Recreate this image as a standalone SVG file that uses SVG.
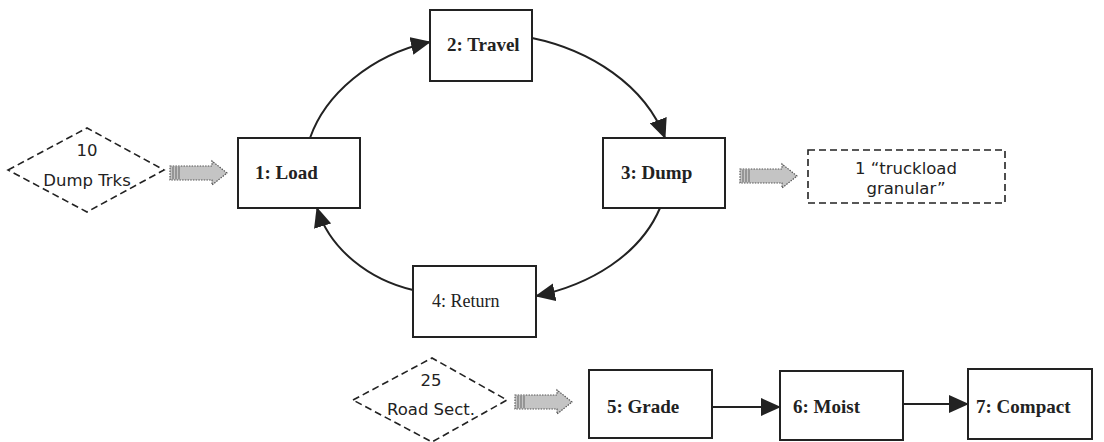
<svg xmlns="http://www.w3.org/2000/svg" width="1104" height="442" viewBox="0 0 1104 442">
<style>
.box{fill:#fff;stroke:#222;stroke-width:2}
.dash{fill:#fff;stroke:#222;stroke-width:1.6;stroke-dasharray:7 4}
.lb{font-family:"Liberation Serif",serif;font-weight:bold;font-size:19px;fill:#222}
.lr{font-family:"Liberation Serif",serif;font-size:18px;fill:#222}
.ls{font-family:"DejaVu Sans",sans-serif;font-size:16.5px;fill:#222;text-anchor:middle}
.conn{fill:none;stroke:#222;stroke-width:2}
.blk{fill:#c4c4c4;stroke:#555;stroke-width:1.2;stroke-dasharray:1.5 1.2}
</style>
<defs>
<marker id="ah" markerUnits="userSpaceOnUse" markerWidth="20" markerHeight="18" viewBox="0 0 20 18" refX="19" refY="9" orient="auto">
<path d="M0,0 L20,9 L0,18 Z" fill="#222"/>
</marker>
<g id="blockArrow">
<path class="blk" d="M0,-7 L42,-7 L42,-12 L57,0 L42,12 L42,7 L0,7 Z"/>
<path d="M3,-6 V6 M6,-6 V6 M9,-6 V6" stroke="#666" stroke-width="1"/>
</g>
</defs>

<g id="connectors">
<path class="conn" d="M310,138 C325,95 370,55 430,42" marker-end="url(#ah)"/>
<path class="conn" d="M532,38 C590,50 645,85 665,138" marker-end="url(#ah)"/>
<path class="conn" d="M660,208 C640,255 590,285 536,296" marker-end="url(#ah)"/>
<path class="conn" d="M413,290 C370,280 330,250 317,208" marker-end="url(#ah)"/>
<path class="conn" d="M712,407 L780,407" marker-end="url(#ah)"/>
<path class="conn" d="M903,404 L968,404" marker-end="url(#ah)"/>
<use href="#blockArrow" x="170" y="173"/>
<use href="#blockArrow" x="740" y="176"/>
<use href="#blockArrow" x="515" y="402"/>
</g>

<g id="n-dumptrks">
<path class="dash" d="M8,170 L87,128 L164,170 L87,212 Z"/>
<text class="ls" x="87" y="156">10</text>
<text class="ls" x="87" y="186">Dump Trks</text>
</g>

<g id="n-load">
<rect class="box" x="238" y="138" width="122" height="70"/>
<text class="lb" x="255" y="179">1: Load</text>
</g>

<g id="n-travel">
<rect class="box" x="430" y="10" width="102" height="71"/>
<text class="lb" x="447" y="51">2: Travel</text>
</g>

<g id="n-dump">
<rect class="box" x="603" y="138" width="122" height="70"/>
<text class="lb" x="621" y="179">3: Dump</text>
</g>

<g id="n-truckload">
<rect class="dash" x="808" y="150" width="197" height="53"/>
<text class="ls" x="906" y="174">1 “truckload</text>
<text class="ls" x="906" y="194">granular”</text>
</g>

<g id="n-return">
<rect class="box" x="413" y="266" width="123" height="71"/>
<text class="lr" x="432" y="307">4: Return</text>
</g>

<g id="n-roadsect">
<path class="dash" d="M353,400 L432,358 L507,400 L432,442 Z"/>
<text class="ls" x="431" y="386">25</text>
<text class="ls" x="431" y="415">Road Sect.</text>
</g>

<g id="n-grade">
<rect class="box" x="589" y="370" width="123" height="68"/>
<text class="lb" x="607" y="413">5: Grade</text>
</g>

<g id="n-moist">
<rect class="box" x="780" y="371" width="123" height="69"/>
<text class="lb" x="793" y="413">6: Moist</text>
</g>

<g id="n-compact">
<rect class="box" x="968" y="369" width="124" height="70"/>
<text class="lb" x="976" y="413">7: Compact</text>
</g>
</svg>
